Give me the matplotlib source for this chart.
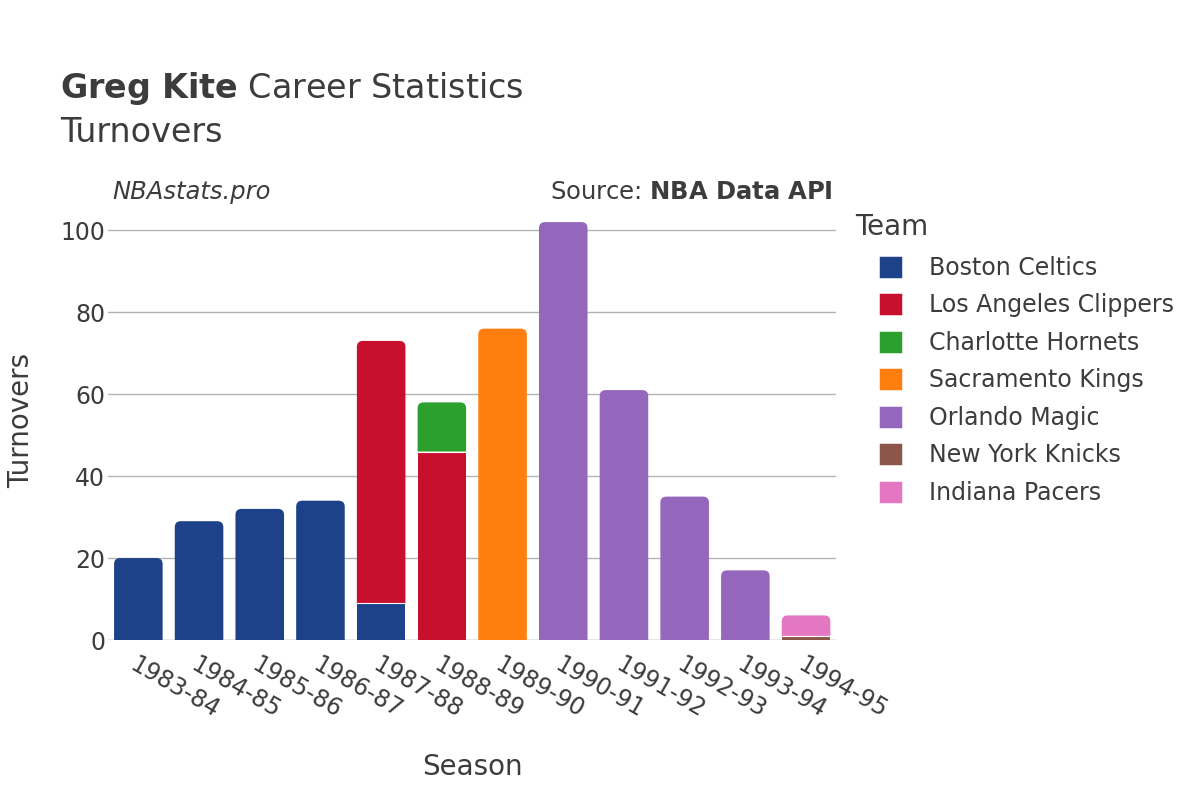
import matplotlib.pyplot as plt
from matplotlib.patches import Patch, PathPatch
from matplotlib.path import Path

seasons = ['1983-84', '1984-85', '1985-86', '1986-87', '1987-88', '1988-89',
           '1989-90', '1990-91', '1991-92', '1992-93', '1993-94', '1994-95']
teams = ['Boston Celtics', 'Los Angeles Clippers', 'Charlotte Hornets',
         'Sacramento Kings', 'Orlando Magic', 'New York Knicks', 'Indiana Pacers']
colors = ['#1d428a', '#c8102e', '#2ca02c', '#ff7f0e', '#9467bd', '#8c564b', '#e377c2']

# turnovers per team, one value per season
boston = [20, 29, 32, 34, 9, 0, 0, 0, 0, 0, 0, 0]
clippers = [0, 0, 0, 0, 64, 46, 0, 0, 0, 0, 0, 0]
hornets = [0, 0, 0, 0, 0, 12, 0, 0, 0, 0, 0, 0]
kings = [0, 0, 0, 0, 0, 0, 76, 0, 0, 0, 0, 0]
magic = [0, 0, 0, 0, 0, 0, 0, 102, 61, 35, 17, 0]
knicks = [0, 0, 0, 0, 0, 0, 0, 0, 0, 0, 0, 1]
pacers = [0, 0, 0, 0, 0, 0, 0, 0, 0, 0, 0, 5]
series = [boston, clippers, hornets, kings, magic, knicks, pacers]

txt = '#3c3c3c'
plt.rcParams['font.family'] = 'DejaVu Sans'

fig = plt.figure(figsize=(12, 8), dpi=100)
ax_pos = [0.09, 0.2, 0.607, 0.55]
ax = fig.add_axes(ax_pos)

ymax = 107.4
n = len(seasons)
width = 0.8
# corner radius, same size in pixels on both axes
px_x = ax_pos[2] * 1200 / n
px_y = ax_pos[3] * 800 / ymax
rx = 6 / px_x
ry = 6 / px_y


def bar_path(x0, y0, w, h, rounded):
    x1, y1 = x0 + w, y0 + h
    if not rounded:
        verts = [(x0, y0), (x0, y1), (x1, y1), (x1, y0), (x0, y0)]
        codes = [Path.MOVETO] + [Path.LINETO] * 3 + [Path.CLOSEPOLY]
        return Path(verts, codes)
    verts = [(x0, y0), (x0, y1 - ry), (x0, y1), (x0 + rx, y1), (x1 - rx, y1),
             (x1, y1), (x1, y1 - ry), (x1, y0), (x0, y0)]
    codes = [Path.MOVETO, Path.LINETO, Path.CURVE3, Path.CURVE3, Path.LINETO,
             Path.CURVE3, Path.CURVE3, Path.LINETO, Path.CLOSEPOLY]
    return Path(verts, codes)


totals = [sum(s[i] for s in series) for i in range(n)]
bottom = [0] * n
for vals, c in zip(series, colors):
    for i, v in enumerate(vals):
        if v <= 0:
            continue
        x0 = i - width / 2
        top = bottom[i] + v
        rounded = top == totals[i] and v > ry
        ax.add_patch(PathPatch(bar_path(x0, bottom[i], width, v, rounded),
                               facecolor=c, edgecolor='none', zorder=3))
        if bottom[i] > 0:
            ax.plot([x0, x0 + width], [bottom[i], bottom[i]], color='white', lw=0.8, zorder=4)
        bottom[i] = top

ax.set_xlim(-0.5, n - 0.5)
ax.set_ylim(0, ymax)
ax.set_yticks([0, 20, 40, 60, 80, 100])
ax.yaxis.grid(True, color='#b4b4b4', linewidth=1, zorder=0)
ax.axhline(0, color='#e6e6e6', linewidth=2, zorder=2)
for s in ax.spines.values():
    s.set_visible(False)
ax.tick_params(axis='both', length=0, labelsize=17, labelcolor=txt)
ax.tick_params(axis='y', pad=2)
ax.set_xticks(range(n))
ax.set_xticklabels(seasons, rotation=-30, ha='left', va='top', rotation_mode='anchor')
ax.tick_params(axis='x', pad=9)

ax.set_xlabel('Season', fontsize=20, color=txt, labelpad=22)
ax.set_ylabel('Turnovers', fontsize=20, color=txt, labelpad=18)

fig.text(0.05, 0.889, r'$\bf{Greg\ Kite}$ Career Statistics', fontsize=24, color=txt, va='center')
fig.text(0.05, 0.834, 'Turnovers', fontsize=24, color=txt, va='center')
fig.text(0.094, 0.76, 'NBAstats.pro', fontsize=17.5, color=txt, style='italic', va='center')
fig.text(0.694, 0.76, 'Source: $\\bf{NBA\\ Data\\ API}$', fontsize=17.5, color=txt, va='center', ha='right')

fig.text(855 / 1200, 1 - 227 / 800, 'Team', fontsize=20, color=txt, va='center')
handles = [Patch(facecolor=c, edgecolor=c, linewidth=2.5, joinstyle='round') for c in colors]
leg = fig.legend(handles, teams, loc='upper left', bbox_to_anchor=(881 / 1200, 1 - 256 / 800),
                 frameon=False, fontsize=17,
                 handlelength=0.8, handleheight=0.8, labelspacing=0.57, handletextpad=1.25,
                 borderpad=0, borderaxespad=0)
for t in leg.get_texts():
    t.set_color(txt)

fig.savefig('out.png', dpi=100, facecolor='white')
